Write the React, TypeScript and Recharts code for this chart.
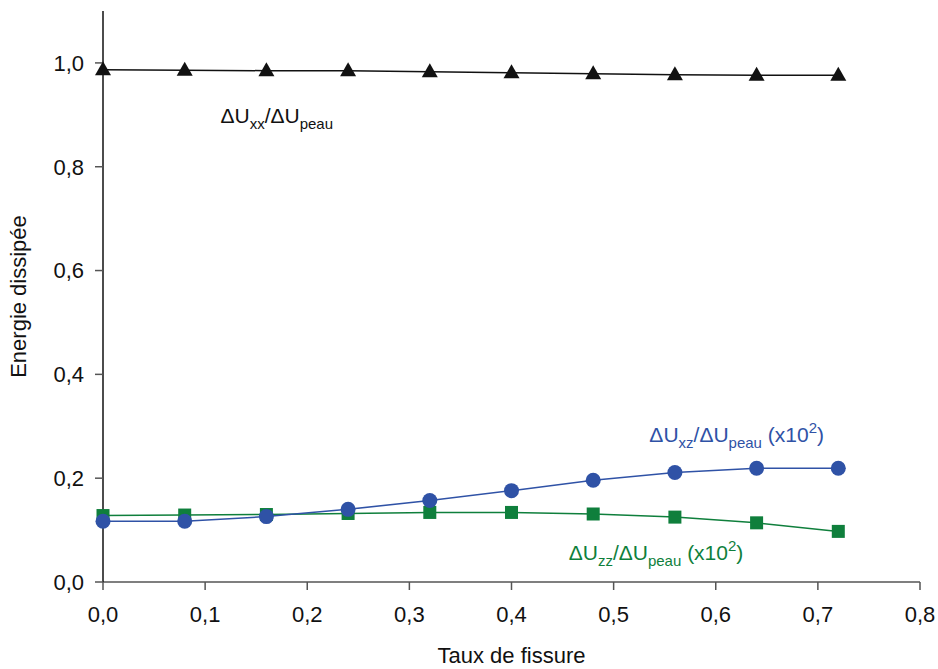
import React from "react";
import {
  LineChart,
  Line,
  XAxis,
  YAxis,
  ReferenceDot,
  Label,
} from "recharts";

const xValues = [0, 0.08, 0.16, 0.24, 0.32, 0.4, 0.48, 0.56, 0.64, 0.72];
const uxxValues = [0.987, 0.986, 0.985, 0.985, 0.983, 0.981, 0.979, 0.977, 0.976, 0.976];
const uxzValues = [0.117, 0.117, 0.126, 0.14, 0.157, 0.176, 0.196, 0.211, 0.219, 0.219];
const uzzValues = [0.128, 0.129, 0.13, 0.132, 0.134, 0.134, 0.131, 0.125, 0.114, 0.0975];
const xTicks = [0, 0.1, 0.2, 0.3, 0.4, 0.5, 0.6, 0.7, 0.8];
const yTicks = [0, 0.2, 0.4, 0.6, 0.8, 1.0];

const data = xValues.map((x, i) => ({
  x,
  uxx: uxxValues[i],
  uxz: uxzValues[i],
  uzz: uzzValues[i],
}));

const FONT = "'Liberation Sans', Arial, Helvetica, sans-serif";
const BLUE = "#2f52a6";
const GREEN = "#0f7f3c";

const fmt = (v: number) => v.toFixed(1).replace(".", ",");

const Triangle = (props: any) => {
  const { cx, cy } = props;
  if (cx == null || cy == null) return null;
  return (
    <polygon
      points={`${cx},${cy - 8.5} ${cx - 8},${cy + 5.5} ${cx + 8},${cy + 5.5}`}
      fill="#111"
    />
  );
};
const Circle = (props: any) => {
  const { cx, cy } = props;
  if (cx == null || cy == null) return null;
  return <circle cx={cx} cy={cy} r={7.5} fill={BLUE} />;
};
const Square = (props: any) => {
  const { cx, cy } = props;
  if (cx == null || cy == null) return null;
  return <rect x={cx - 6.5} y={cy - 6.5} width={13} height={13} fill={GREEN} />;
};

const Annot = (color: string, sub: string, sup: boolean) => (props: any) => {
  const vb = props.viewBox || {};
  const x = vb.x ?? 0;
  const y = vb.y ?? 0;
  return (
    <text x={x} y={y} fill={color} fontFamily={FONT} fontSize={21}>
      <tspan>ΔU</tspan>
      <tspan fontSize={15} dy={6}>{sub}</tspan>
      <tspan dy={-6}>/ΔU</tspan>
      <tspan fontSize={15} dy={6}>peau</tspan>
      {sup ? (
        <>
          <tspan dy={-6}> (x10</tspan>
          <tspan fontSize={15} dy={-9}>2</tspan>
          <tspan dy={9}>)</tspan>
        </>
      ) : null}
    </text>
  );
};

const XLabel = (props: any) => {
  const vb = props.viewBox || {};
  return (
    <text
      x={vb.x + vb.width / 2}
      y={663}
      textAnchor="middle"
      fontFamily={FONT}
      fontSize={22}
      fill="#111"
    >
      Taux de fissure
    </text>
  );
};
const YLabel = (props: any) => {
  const vb = props.viewBox || {};
  const cy = vb.y + vb.height / 2;
  return (
    <text
      x={26}
      y={cy}
      textAnchor="middle"
      fontFamily={FONT}
      fontSize={22}
      fill="#111"
      transform={`rotate(-90, 26, ${cy})`}
    >
      Energie dissipée
    </text>
  );
};

export default function App() {
  return (
    <div style={{ position: "absolute", left: 0, top: 0, background: "#fff" }}>
      <LineChart
        width={938}
        height={669}
        data={data}
        margin={{ top: 11, right: 18, bottom: 0, left: 0 }}
      >
        <XAxis
          xAxisId="top"
          orientation="top"
          type="number"
          domain={[0, 0.8]}
          height={0}
          tick={false}
          tickLine={false}
          axisLine={{ stroke: "#444", strokeWidth: 1.5 }}
        />
        <YAxis
          yAxisId="right"
          orientation="right"
          type="number"
          domain={[0, 1.1]}
          width={0}
          tick={false}
          tickLine={false}
          axisLine={{ stroke: "#444", strokeWidth: 1.5 }}
        />
        <XAxis
          dataKey="x"
          type="number"
          domain={[0, 0.8]}
          ticks={xTicks}
          tickFormatter={fmt}
          height={87}
          tickSize={8}
          tickMargin={16}
          tick={{ fontFamily: FONT, fontSize: 22, fill: "#111" }}
          tickLine={{ stroke: "#555", strokeWidth: 1.5 }}
          axisLine={{ stroke: "#555", strokeWidth: 1.5 }}
        >
          <Label content={<XLabel />} />
        </XAxis>
        <YAxis
          type="number"
          domain={[0, 1.1]}
          ticks={yTicks}
          tickFormatter={fmt}
          width={103}
          tickSize={8}
          tickMargin={11}
          tick={{ fontFamily: FONT, fontSize: 22, fill: "#111" }}
          tickLine={{ stroke: "#555", strokeWidth: 1.5 }}
          axisLine={{ stroke: "#111", strokeWidth: 1.5 }}
        >
          <Label content={<YLabel />} />
        </YAxis>
        <Line
          dataKey="uxx"
          stroke="#111"
          strokeWidth={1.5}
          dot={<Triangle />}
          isAnimationActive={false}
        />
        <Line
          dataKey="uzz"
          stroke={GREEN}
          strokeWidth={1.5}
          dot={<Square />}
          isAnimationActive={false}
        />
        <Line
          dataKey="uxz"
          stroke={BLUE}
          strokeWidth={1.5}
          dot={<Circle />}
          isAnimationActive={false}
        />
        <ReferenceDot x={0.115} y={0.884} r={0} fill="none" stroke="none" label={Annot("#111", "xx", false)} />
        <ReferenceDot x={0.535} y={0.27} r={0} fill="none" stroke="none" label={Annot(BLUE, "xz", true)} />
        <ReferenceDot x={0.456} y={0.042} r={0} fill="none" stroke="none" label={Annot(GREEN, "zz", true)} />
      </LineChart>
    </div>
  );
}
